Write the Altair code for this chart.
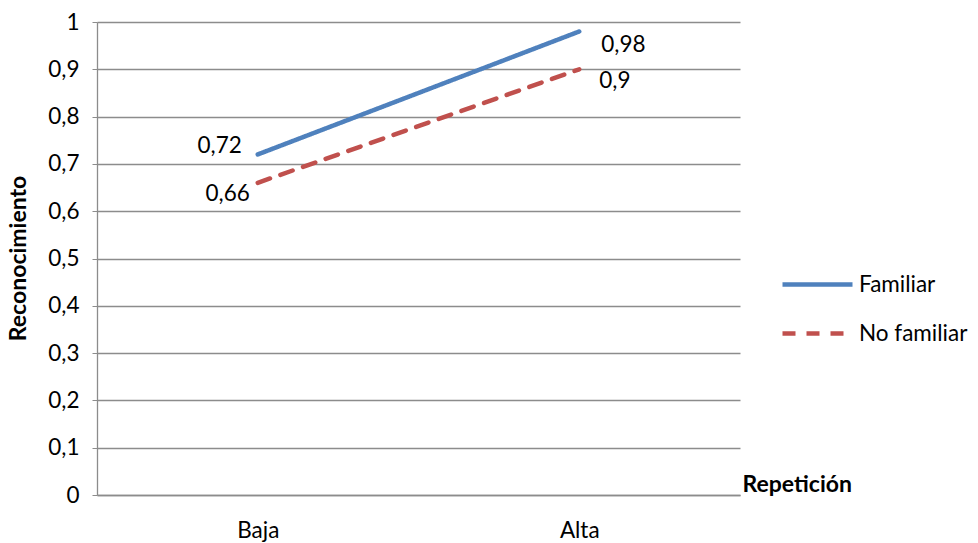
import altair as alt
import pandas as pd

categories = ["Baja", "Alta"]
series = ["Familiar", "No familiar"]
familiar = [0.72, 0.98]
no_familiar = [0.66, 0.90]

rows = []
for s, vals in zip(series, [familiar, no_familiar]):
    for c, v in zip(categories, vals):
        rows.append({"Repeticion": c, "Serie": s, "Valor": v})
df = pd.DataFrame(rows)

FONT = "Lato"
GRID = "#8c8c8c"
FS = 22.5
TS = 23

x_enc = alt.X("Repeticion:N", sort=categories,
              scale=alt.Scale(type="point", padding=0.5),
              axis=alt.Axis(title="Repetición", titleFontWeight="bold", titleFontSize=TS,
                            titleAlign="left", titleAnchor="end", titleBaseline="alphabetic",
                            titleX=645, titleY=-4, labelAngle=0, ticks=False,
                            labelPadding=24, labelFontSize=FS, labelColor="black",
                            domainColor=GRID, domainWidth=1.3, grid=False))
y_enc = alt.Y("Valor:Q", scale=alt.Scale(domain=[0, 1]),
              axis=alt.Axis(title="Reconocimiento", titleFontWeight="bold", titleFontSize=TS,
                            titleX=-79, titleY=236, titleAngle=-90, titleAlign="center",
                            titleBaseline="middle",
                            values=[0, 0.1, 0.2, 0.3, 0.4, 0.5, 0.6, 0.7, 0.8, 0.9, 1],
                            labelExpr="replace(format(datum.value, '.1~f'), '.', ',')",
                            labelFontSize=FS, labelColor="black", labelPadding=13,
                            tickSize=5, tickColor=GRID, gridColor=GRID, gridWidth=1.3,
                            domainColor=GRID, domainWidth=1.3))

lines = alt.Chart(df).mark_line(strokeWidth=4.5, strokeCap="round").encode(
    x=x_enc, y=y_enc,
    color=alt.Color("Serie:N", sort=series,
                    scale=alt.Scale(domain=series, range=["#4F81BD", "#C0504D"]),
                    legend=alt.Legend(title=None, orient="none", legendX=683, legendY=225,
                                      symbolType="stroke", symbolSize=4900,
                                      symbolStrokeWidth=4.5, labelFontSize=FS,
                                      labelColor="black", labelOffset=4, rowPadding=-14,
                                      labelFont=FONT)),
    strokeDash=alt.StrokeDash("Serie:N", sort=series,
                              scale=alt.Scale(domain=series, range=[[1, 0], [13, 11]]),
                              legend=None),
)

def label(serie, cat, align, dx, dy):
    return alt.Chart(df).transform_filter(
        (alt.datum.Serie == serie) & (alt.datum.Repeticion == cat)
    ).transform_calculate(
        txt="replace(format(datum.Valor, '.2~f'), '.', ',')"
    ).mark_text(align=align, dx=dx, dy=dy, fontSize=FS, font=FONT, color="black").encode(
        x=alt.X("Repeticion:N", sort=categories, scale=alt.Scale(type="point", padding=0.5)),
        y=alt.Y("Valor:Q"),
        text="txt:N",
    )

chart = alt.layer(
    lines,
    label("Familiar", "Baja", "right", -16, -8),
    label("No familiar", "Baja", "right", -8, 11),
    label("Familiar", "Alta", "left", 22, 14),
    label("No familiar", "Alta", "left", 20, 12),
).properties(
    width=643, height=473,
    autosize=alt.AutoSizeParams(type="none"),
    padding={"left": 97, "top": 22, "right": 238, "bottom": 48},
).configure(font=FONT).configure_view(stroke=None).configure_axis(labelFont=FONT, titleFont=FONT)

chart.save("out.html", embed_options={"renderer": "svg", "actions": False})
